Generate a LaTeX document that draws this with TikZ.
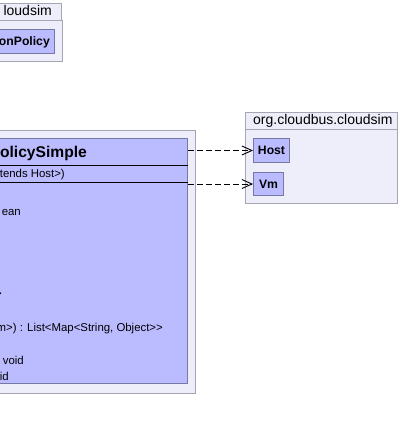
\documentclass[tikz,border=0pt]{standalone}
\usepackage{fontspec}
\setmainfont{Liberation Sans}
\usetikzlibrary{arrows.meta,positioning}
\definecolor{pkgfill}{RGB}{238,238,250}
\definecolor{pkgline}{RGB}{165,165,180}
\definecolor{clsfill}{RGB}{187,187,255}
\definecolor{clsline}{RGB}{120,120,165}

\begin{document}
\begin{tikzpicture}[
    x=1pt, y=-1pt,
    pkgbox/.style={draw=pkgline, fill=pkgfill, line width=1pt, inner sep=0pt},
    clsbox/.style={draw=clsline, fill=clsfill, line width=1pt, inner sep=0pt},
    pkgname/.style={font=\fontsize{14}{16}\selectfont, inner sep=0pt},
    clsname/.style={font=\fontsize{12.2}{14}\selectfont\bfseries, inner sep=0pt},
    member/.style={font=\fontsize{11.4}{13}\selectfont, inner sep=0pt},
    dep/.style={draw, line width=0.9pt, dash pattern=on 6pt off 3pt, -{Straight Barb[length=10pt,width=9pt]}}
]
\useasboundingbox (0,0) rectangle (400,430);
\clip (0,0) rectangle (400,430);

\node[pkgbox, minimum width=122, minimum height=17, anchor=north east] (pkgtabA) at (62,3) {};
\node[pkgbox, minimum width=123, minimum height=41, anchor=north east] (pkgA) at (63,20) {};
\node[clsbox, minimum width=115, minimum height=24, anchor=north east] (policy) at (55,29) {};
\node[pkgname, anchor=base east] (pkgtabA text) at (52,16) {loudsim};
\node[clsname, anchor=base east] (policy text) at (50,45.5) {onPolicy};

\node[pkgbox, minimum width=396, minimum height=263, anchor=north east] (pkgB) at (196,130) {};
\node[clsbox, minimum width=380, minimum height=245, anchor=north east] (simple) at (188,138) {};
\coordinate (sepA) at (-192,165.5);
\coordinate (sepB) at (-192,183);
\draw[line width=1pt] (sepA) -- (sepA -| simple.east);
\draw[line width=1pt] (sepB) -- (sepB -| simple.east);
\node[clsname, font=\fontsize{15.6}{18}\selectfont\bfseries, anchor=base east] (simple text) at (87,157.5) {olicySimple};
\node[member, anchor=base east] (attr) at (65,178) {tends Host>)};
\node[member, anchor=base east] (opA) at (21,215) {ean};
\node[member, anchor=base east] (opB) at (2,297) {>};
\node[member, anchor=base east] (opC) at (163,331) {m>) : List<Map<String, Object>{}>};
\node[member, anchor=base east] (opD) at (24,364) {void};
\node[member, anchor=base east] (opE) at (9,380) {id};

\node[pkgbox, minimum width=152, minimum height=17, anchor=north west] (pkgtabC) at (245,112) {};
\node[pkgbox, minimum width=152, minimum height=74, anchor=north west] (pkgC) at (245,129) {};
\node[pkgname, anchor=base west] (pkgtabC text) at (253,125) {org.cloudbus.cloudsim};
\node[clsbox, clsname, minimum width=36, minimum height=24, anchor=north west] (host) at (253,138) {Host};
\node[clsbox, clsname, minimum width=30, minimum height=23, anchor=north west] (vm) at (253,172) {Vm};

\draw[dep] (simple.east |- host.west) -- (host.west);
\draw[dep] (simple.east |- vm.west) -- (vm.west);
\end{tikzpicture}
\end{document}
